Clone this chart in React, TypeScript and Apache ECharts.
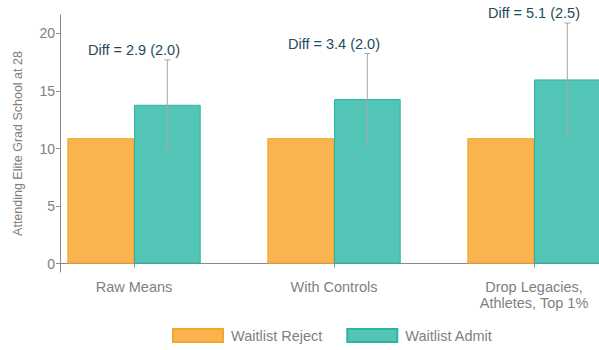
import React, { useEffect, useRef } from "react";
import * as echarts from "echarts";

const categories = ["Raw Means", "With Controls", "Drop Legacies,\nAthletes, Top 1%"];
const waitlistReject = [10.9, 10.9, 10.9];
const waitlistAdmit = [13.8, 14.3, 16.0];
const ciLow = [9.9, 10.35, 11.15];
const ciHigh = [17.7, 18.25, 20.9];
const diffLabels = ["Diff = 2.9 (2.0)", "Diff = 3.4 (2.0)", "Diff = 5.1 (2.5)"];
const yTicks = [0, 5, 10, 15, 20];

const FONT = "Liberation Sans, Arial, Helvetica, sans-serif";
const GREY = "#808080";

export default function App() {
  const ref = useRef<HTMLDivElement>(null);
  useEffect(() => {
    if (!ref.current) return;
    const chart = echarts.init(ref.current, undefined, { renderer: "svg" });
    const positions = categories.map((_, i) => i + 1);
    chart.setOption({
      animation: false,
      textStyle: { fontFamily: FONT },
      grid: { left: 60, right: 0, top: 15, bottom: 78 },
      legend: {
        left: 172,
        top: 328,
        padding: 0,
        itemWidth: 50,
        itemHeight: 13,
        itemGap: 24,
        icon: "rect",
        textStyle: { color: GREY, fontSize: 14.5, fontFamily: FONT, padding: [0, 0, 0, 3] },
        data: ["Waitlist Reject", "Waitlist Admit"],
      },
      xAxis: {
        type: "value",
        min: 0.63,
        max: 3.325,
        splitLine: { show: false },
        axisLine: { show: true, lineStyle: { color: "#8a8a8a", width: 1 } },
        axisTick: { show: true, length: 4, lineStyle: { color: "#8a8a8a" }, customValues: positions },
        axisLabel: {
          customValues: positions,
          formatter: (v: number) => categories[Math.round(v) - 1] ?? "",
          color: GREY,
          fontSize: 14.5,
          lineHeight: 16,
          margin: 7,
          fontFamily: FONT,
        },
      },
      yAxis: {
        type: "value",
        min: -0.73,
        max: 21.6,
        name: "Attending Elite Grad School at 28",
        nameLocation: "middle",
        nameGap: 36,
        nameTextStyle: { color: GREY, fontSize: 12.5, fontFamily: FONT },
        splitLine: { show: false },
        axisLine: { show: true, lineStyle: { color: "#8a8a8a", width: 1 } },
        axisTick: { show: true, length: 4, lineStyle: { color: "#8a8a8a" }, customValues: yTicks },
        axisLabel: { customValues: yTicks, color: GREY, fontSize: 14, margin: 5, fontFamily: FONT },
      },
      series: [
        {
          name: "Waitlist Reject",
          type: "bar",
          barWidth: 66.7,
          barGap: "0%",
          itemStyle: { color: "#F9B44F", borderColor: "#F5A52B", borderWidth: 1 },
          data: waitlistReject.map((v, i) => [positions[i], v]),
        },
        {
          name: "Waitlist Admit",
          type: "bar",
          barWidth: 66.7,
          barGap: "0%",
          itemStyle: { color: "#53C5B6", borderColor: "#2DB4A0", borderWidth: 1 },
          data: waitlistAdmit.map((v, i) => [positions[i], v]),
        },
        {
          type: "custom",
          clip: false,
          silent: true,
          z: 5,
          data: positions.map((p, i) => [p, ciLow[i], ciHigh[i], i]),
          renderItem: (params: any, api: any) => {
            const x = api.value(0);
            const lo = api.coord([x, api.value(1)]);
            const hi = api.coord([x, api.value(2)]);
            const band = api.size([1, 0])[0];
            const cx = lo[0] + band / 6;
            const cap = 3;
            const stroke = { stroke: "#A8A8A8", lineWidth: 1 };
            return {
              type: "group",
              children: [
                { type: "line", shape: { x1: cx, y1: lo[1], x2: cx, y2: hi[1] }, style: stroke },
                { type: "line", shape: { x1: cx - cap, y1: lo[1], x2: cx + cap, y2: lo[1] }, style: stroke },
                { type: "line", shape: { x1: cx - cap, y1: hi[1], x2: cx + cap, y2: hi[1] }, style: stroke },
                {
                  type: "text",
                  x: lo[0],
                  y: hi[1] - 9.6,
                  style: {
                    text: diffLabels[api.value(3)],
                    fill: "#1F4B5E",
                    fontSize: 14.5,
                    fontFamily: FONT,
                    align: "center",
                    verticalAlign: "middle",
                  },
                },
              ],
            };
          },
        },
      ],
    });
    return () => chart.dispose();
  }, []);
  return <div ref={ref} style={{ width: 599, height: 350, position: "absolute", left: 0, top: 0 }} />;
}
